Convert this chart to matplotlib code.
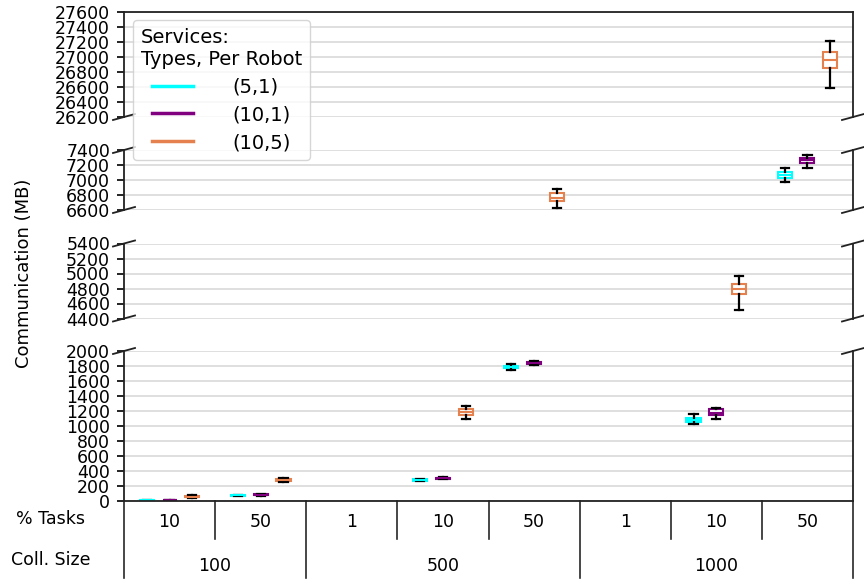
import numpy as np
import matplotlib
matplotlib.use("Agg")
import matplotlib.pyplot as plt
from matplotlib.lines import Line2D
from matplotlib.legend_handler import HandlerLine2D

# ---------------- data ----------------
coll_sizes = ["100", "500", "1000"]
coll_centers = [0.5, 3, 6]
pct_tasks = ["10", "50", "1", "10", "50", "1", "10", "50"]
series_labels = ["(5,1)", "(10,1)", "(10,5)"]
series_colors = ["#00ffff", "#800080", "#e5804f"]

# box stats per category: (whisker low, q1, median, q3, whisker high); None = no data
stats_5_1 = [(2, 5, 8, 11, 14), (65, 70, 75, 80, 85), None,
             (262, 272, 280, 288, 298), (1747, 1775, 1787, 1800, 1823), None,
             (1023, 1058, 1085, 1107, 1156), (6977, 7030, 7068, 7105, 7162)]
stats_10_1 = [(4, 7, 10, 13, 16), (72, 77, 82, 87, 92), None,
              (290, 298, 305, 312, 320), (1810, 1828, 1838, 1848, 1862), None,
              (1093, 1143, 1180, 1223, 1238), (7164, 7230, 7267, 7293, 7333)]
stats_10_5 = [(40, 50, 57, 65, 75), (255, 270, 280, 292, 305), None,
              (1093, 1150, 1190, 1230, 1270), (6623, 6725, 6764, 6823, 6876), None,
              (4520, 4733, 4796, 4859, 4965), (26587, 26849, 26960, 27071, 27217)]
all_stats = [stats_5_1, stats_10_1, stats_10_5]

panel_ylims = [(26200, 27600), (6600, 7400), (4400, 5400), (0, 2000)]

# ---------------- layout ----------------
W, H = 864, 580
fig = plt.figure(figsize=(W / 100, H / 100), dpi=100)
x0, x1 = 124, 853
panel_px = [(12, 117), (150, 210), (243.5, 318.5), (351, 501)]
spine_col = "#222222"
spine_lw = 1.3
offsets = [-0.25, 0.0, 0.25]

axes = []
for k, ((top, bot), (lo, hi)) in enumerate(zip(panel_px, panel_ylims)):
    ax = fig.add_axes([x0 / W, 1 - bot / H, (x1 - x0) / W, (bot - top) / H])
    ax.set_xlim(-0.5, 7.5)
    ax.set_ylim(lo, hi)
    ax.set_yticks(np.arange(lo, hi + 1, 200))
    ax.set_xticks([])
    ax.yaxis.grid(True, color="#dcdcdc", lw=1.3)
    ax.set_axisbelow(True)
    ax.tick_params(axis="y", labelsize=12.5, length=5, width=1.2, pad=5, colors="black")
    for s in ["left", "right", "top", "bottom"]:
        ax.spines[s].set_color(spine_col)
        ax.spines[s].set_linewidth(spine_lw)
    if k != 0:
        ax.spines["top"].set_visible(False)
    if k != len(panel_ylims) - 1:
        ax.spines["bottom"].set_visible(False)

    for j, (st, col) in enumerate(zip(all_stats, series_colors)):
        bstats, pos = [], []
        for i, v in enumerate(st):
            if v is None:
                continue
            wl, q1, med, q3, wh = v
            bstats.append(dict(whislo=wl, q1=q1, med=med, q3=q3, whishi=wh, fliers=[]))
            pos.append(i + offsets[j])
        ax.bxp(bstats, positions=pos, widths=0.155, patch_artist=True,
               showfliers=False, manage_ticks=False, capwidths=0.09,
               boxprops=dict(facecolor="white", edgecolor=col, lw=1.5),
               medianprops=dict(color=col, lw=1.5),
               whiskerprops=dict(color="black", lw=1.6),
               capprops=dict(color="black", lw=1.6))
    axes.append(ax)

# break marks
def brk(px, py):
    fig.add_artist(Line2D([(px - 11) / W, (px + 11) / W],
                          [1 - (py + 3) / H, 1 - (py - 3) / H],
                          transform=fig.transFigure, color=spine_col, lw=spine_lw))

for k, (top, bot) in enumerate(panel_px):
    for px in (x0, x1):
        if k != 0:
            brk(px, top)
        if k != len(panel_px) - 1:
            brk(px, bot)

# bottom hierarchical labels
axb = axes[-1]
tr = axb.get_xaxis_transform()
h_b = panel_px[-1][1] - panel_px[-1][0]
major_b = {0, 2, 5, 8}
for b in range(9):
    depth = 77 if b in major_b else 38
    axb.plot([b - 0.5, b - 0.5], [0, -depth / h_b], transform=tr, color=spine_col,
             lw=spine_lw * 0.9, clip_on=False)
for i, t in enumerate(pct_tasks):
    axb.text(i, -21 / h_b, t, transform=tr, ha="center", va="center", fontsize=12.5)
for c, t in zip(coll_centers, coll_sizes):
    axb.text(c, -65 / h_b, t, transform=tr, ha="center", va="center", fontsize=12.5)

fig.text(51 / W, 1 - 519 / H, "% Tasks", ha="center", va="center", fontsize=12.5)
fig.text(51 / W, 1 - 560 / H, "Coll. Size", ha="center", va="center", fontsize=12.5)
fig.text(24 / W, 1 - 273 / H, "Communication (MB)", rotation=90, ha="center",
         va="center", fontsize=13)

# legend
fs_leg = 14
handles = [Line2D([], [], color=c, lw=2.5) for c in series_colors]
fig.legend(handles, series_labels, title="Services:\nTypes, Per Robot",
           loc="upper left", bbox_to_anchor=(133 / W, 1 - 20 / H), borderaxespad=0,
           fontsize=fs_leg, title_fontsize=fs_leg, alignment="left",
           handlelength=3.25, handletextpad=1.44, labelspacing=0.45,
           handler_map={Line2D: HandlerLine2D(marker_pad=0.57, numpoints=2)},
           framealpha=0.8, edgecolor="#cccccc", fancybox=True)

fig.savefig("out.png", dpi=100)
